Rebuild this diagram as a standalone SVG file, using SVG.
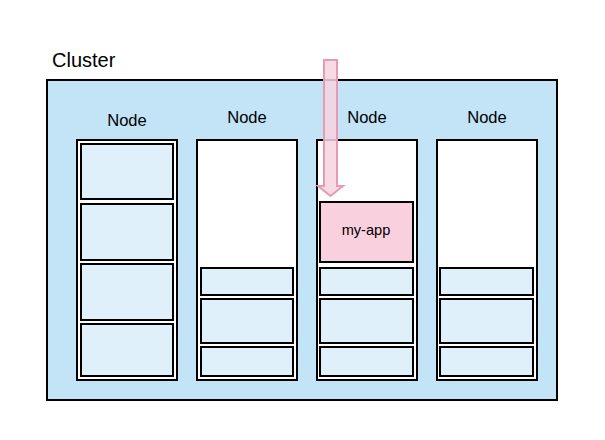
<svg xmlns="http://www.w3.org/2000/svg" width="605" height="440" viewBox="0 0 605 440">
<style>
.lbl{font-family:"Liberation Sans",Arial,sans-serif;fill:#000}
.nl{font-size:16.5px;text-anchor:middle}
.node{fill:#fff;stroke:#000;stroke-width:2}
.pod{fill:#dff0fa;stroke:#000;stroke-width:2}
.app{fill:#f8d0de;stroke:#000;stroke-width:2}
</style>
<rect width="605" height="440" fill="#fff"/>
<g id="cluster">
<rect x="47" y="80" width="510" height="320" fill="#c3e4f6" stroke="#000" stroke-width="2"/>
<text class="lbl" x="52" y="67" font-size="20">Cluster</text>
</g>
<g id="node1">
<text class="lbl nl" x="127" y="126">Node</text>
<rect class="node" x="77" y="140" width="100" height="240"/>
<rect class="pod" x="81" y="144" width="92" height="55"/>
<rect class="pod" x="81" y="204" width="92" height="56"/>
<rect class="pod" x="81" y="264" width="92" height="56"/>
<rect class="pod" x="81" y="324" width="92" height="52"/>
</g>
<g id="node2">
<text class="lbl nl" x="247" y="123">Node</text>
<rect class="node" x="197" y="140" width="100" height="240"/>
<rect class="pod" x="201" y="268" width="92" height="27"/>
<rect class="pod" x="201" y="299" width="92" height="44"/>
<rect class="pod" x="201" y="347" width="92" height="29"/>
</g>
<g id="node3">
<text class="lbl nl" x="367" y="123">Node</text>
<rect class="node" x="317" y="140" width="100" height="240"/>
<rect class="app" x="320" y="202" width="93" height="60"/>
<text class="lbl" x="366" y="235" font-size="14.6" text-anchor="middle">my-app</text>
<rect class="pod" x="320" y="268" width="93" height="27"/>
<rect class="pod" x="320" y="299" width="93" height="44"/>
<rect class="pod" x="320" y="347" width="93" height="29"/>
</g>
<g id="node4">
<text class="lbl nl" x="487" y="123">Node</text>
<rect class="node" x="437" y="140" width="100" height="240"/>
<rect class="pod" x="440" y="268" width="93" height="27"/>
<rect class="pod" x="440" y="299" width="93" height="44"/>
<rect class="pod" x="440" y="347" width="93" height="29"/>
</g>
<g id="connectors">
<path d="M324,60 L337,60 L337,186 L343,186 L330.5,196 L318,186 L324,186 Z" fill="#f7d3df" fill-opacity="0.85" stroke="#e79ab6" stroke-width="2"/>
</g>
</svg>
